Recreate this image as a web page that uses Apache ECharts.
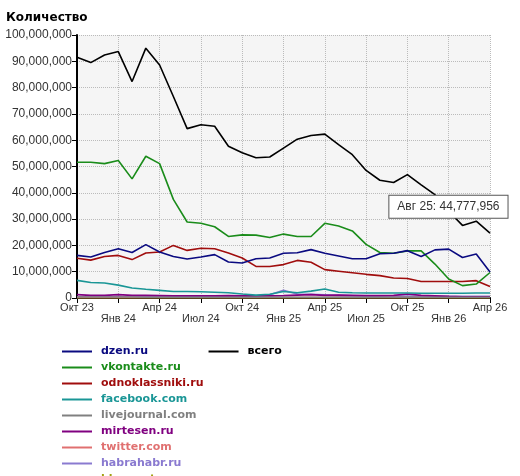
<!DOCTYPE html>
<html><head><meta charset="utf-8">
<script src="https://cdn.jsdelivr.net/npm/echarts@6/dist/echarts.min.js"></script>
<style>body{margin:0;background:#fff}#main{width:520px;height:476px}</style>
</head><body><div id="main"></div>
<script>
const months = ['Окт 23','Ноя 23','Дек 23','Янв 24','Фев 24','Мар 24','Апр 24','Май 24','Июн 24','Июл 24','Авг 24','Сен 24','Окт 24','Ноя 24','Дек 24','Янв 25','Фев 25','Мар 25','Апр 25','Май 25','Июн 25','Июл 25','Авг 25','Сен 25','Окт 25','Ноя 25','Дек 25','Янв 26','Фев 26','Мар 26','Апр 26'];
const lowerLabels = ['Янв 24','Июл 24','Янв 25','Июл 25','Янв 26'];

// values in millions
const dzen = [16.2,15.6,17.3,18.7,17.3,20.3,17.5,15.8,14.8,15.6,16.5,13.7,13.3,14.9,15.2,17,17.2,18.4,17,16,14.9,14.9,16.8,17,18,15.8,18.3,18.6,15.4,16.7,9.9];
const vkontakte = [51.6,51.6,51.1,52.3,45.3,53.9,51.1,37.5,28.9,28.4,27.1,23.4,24,23.9,23,24.3,23.4,23.4,28.4,27.4,25.5,20.4,17.3,17,17.9,17.9,12.9,7.2,4.7,5.3,9.7];
const odnoklassniki = [15.1,14.4,15.8,16.2,14.6,17.1,17.5,20,18.1,18.9,18.7,17.1,15.2,12,12,12.7,14.3,13.6,10.8,10.2,9.6,9,8.5,7.6,7.4,6.3,6.3,6.3,6.3,6.6,4.4];
const facebook = [6.7,5.9,5.7,4.9,3.8,3.3,2.9,2.5,2.5,2.4,2.2,2,1.5,1.1,1.4,2.5,2,2.6,3.4,2.2,2,1.9,1.9,1.9,1.9,1.8,1.8,1.8,1.8,1.9,1.9];
const livejournal = [0.4,0.4,0.4,0.4,0.4,0.3,0.3,0.3,0.3,0.3,0.3,0.3,0.3,0.3,0.3,0.3,0.3,0.3,0.3,0.3,0.3,0.3,0.3,0.3,0.3,0.3,0.3,0.3,0.3,0.3,0.3];
const mirtesen = [1.3,1,1,1.3,1,1,0.9,0.8,0.8,0.8,0.8,0.9,0.8,0.8,0.8,0.9,1.1,1.3,1,1.1,1,0.9,0.9,1,1.5,1,0.8,0.6,0.5,0.5,0.5];
const twitter = [0.2,0.2,0.2,0.2,0.2,0.2,0.2,0.2,0.2,0.2,0.2,0.2,0.2,0.2,0.2,0.2,0.2,0.2,0.2,0.2,0.2,0.2,0.2,0.2,0.2,0.2,0.2,0.2,0.2,0.2,0.2];
const habrahabr = [0.5,0.5,0.5,0.5,0.5,0.5,0.5,0.5,0.5,0.5,0.5,0.6,0.6,0.8,1.2,2.9,1.5,1.4,1.2,1,0.8,0.7,0.7,0.7,0.7,0.6,0.6,0.6,0.6,0.6,0.6];
const blogspot = [0.1,0.1,0.1,0.1,0.1,0.1,0.1,0.1,0.1,0.1,0.1,0.1,0.1,0.1,0.1,0.1,0.1,0.1,0.1,0.1,0.1,0.1,0.1,0.1,0.1,0.1,0.1,0.1,0.1,0.1,0.1];
const total = [91.5,89.5,92.4,93.7,82.3,95,88.6,76.6,64.4,65.9,65.3,57.7,55.2,53.3,53.6,57,60.4,61.8,62.3,58.3,54.5,48.5,44.777956,43.9,46.9,43,39.3,33,27.6,29.2,24.7];

const names = ['dzen.ru','vkontakte.ru','odnoklassniki.ru','facebook.com','livejournal.com','mirtesen.ru','twitter.com','habrahabr.ru','blogspot.com','всего'];
const colors = ['#0a0a80','#1a8c1a','#a00d0d','#1a9696','#808080','#800080','#e07070','#8a7ad0','#a0a010','#000000'];
const allData = [dzen,vkontakte,odnoklassniki,facebook,livejournal,mirtesen,twitter,habrahabr,blogspot,total];
const tipIndex = 22;

const fmt = v => Math.round(v).toString().replace(/\B(?=(\d{3})+(?!\d))/g, ',');

const series = names.map((n, k) => {
  const s = {
    name: n, type: 'line', symbol: 'none', z: 10 - k,
    lineStyle: {color: colors[k], width: 1.6},
    itemStyle: {color: colors[k]},
    data: allData[k].map(v => v * 1e6)
  };
  if (k === 9) {
    s.markPoint = {
      symbol: 'circle', symbolSize: 1, itemStyle: {color: 'rgba(0,0,0,0)'},
      data: [{coord: [tipIndex, total[tipIndex] * 1e6]}],
      label: {
        show: true, position: [10, 16],
        formatter: () => months[tipIndex] + ': ' + fmt(total[tipIndex] * 1e6),
        backgroundColor: '#fff', borderColor: '#555', borderWidth: 1,
        padding: [5, 8], color: '#333', fontSize: 12, fontFamily: 'Liberation Sans'
      }
    };
  }
  return s;
});

let chart = echarts.init(document.getElementById('main'));
chart.setOption({
  animation: false,
  title: {text: 'Количество', left: 1, top: 7, textStyle: {fontSize: 12, fontWeight: 'bold', color: '#000', fontFamily: 'DejaVu Sans'}},
  grid: {left: 77, right: 30, top: 35, bottom: 178, show: true, backgroundColor: '#f5f5f5', borderWidth: 0},
  legend: {
    orient: 'vertical', left: 57, top: 341, height: 140, itemWidth: 30, itemHeight: 8, itemGap: 5,
    icon: 'path://M0,0H30V2H0Z',
    data: names.map((n, k) => ({name: n, textStyle: {color: colors[k], fontWeight: 'bold', fontSize: 11, fontFamily: 'DejaVu Sans'}})),
    textStyle: {padding: [0, 0, 0, 4]}
  },
  xAxis: {
    type: 'category', data: months, boundaryGap: false,
    axisLine: {lineStyle: {color: '#000', width: 2}},
    axisTick: {interval: 2, length: 5, lineStyle: {color: '#000'}},
    splitLine: {show: true, interval: 2, lineStyle: {color: '#bbb', type: 'dotted'}},
    axisLabel: {
      interval: 2, color: '#333', fontSize: 11, fontFamily: 'Liberation Sans', margin: 4,
      formatter: v => lowerLabels.includes(v) ? '\n' + v : v
    }
  },
  yAxis: {
    type: 'value', min: 0, max: 100000000, interval: 10000000,
    axisLine: {show: true, lineStyle: {color: '#000', width: 2}},
    axisTick: {show: true, length: 5, lineStyle: {color: '#000'}},
    splitLine: {lineStyle: {color: '#bbb', type: 'dotted'}},
    axisLabel: {color: '#333', fontSize: 12, fontFamily: 'Liberation Sans', margin: 5, formatter: fmt}
  },
  series: series
});
</script></body></html>
